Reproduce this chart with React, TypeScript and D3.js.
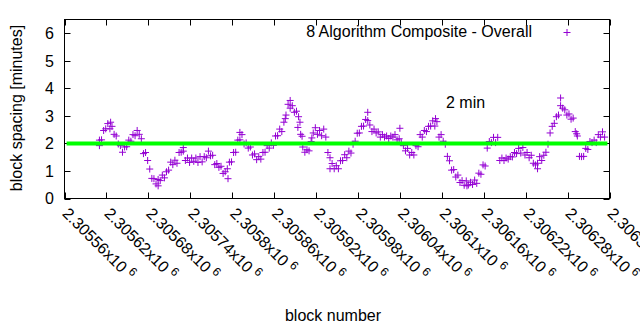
import React from "react";
import * as d3 from "d3";

// ---- data ----
const blockStart = 2305610;
const blockStep = 3;
const spacingValues = [
  2.12, 2.13, 2.47, 2.53, 2.72, 2.53, 2.62, 2.33, 2.27, 1.98, 1.92, 1.68, 1.87, 1.88, 2.12, 2.08, 2.32, 2.28, 2.47,
  2.33, 2.17, 1.63, 1.67, 1.38, 1.07, 0.73, 0.72, 0.53, 0.69, 0.65, 0.85, 0.75, 0.97, 1.03, 1.32, 1.23, 1.39,
  1.28, 1.67, 1.68, 1.72, 1.38, 1.47, 1.31, 1.47, 1.35, 1.47, 1.31, 1.52, 1.33, 1.52, 1.48, 1.72, 1.55, 1.57, 1.23, 1.27,
  1.13, 1.17, 0.91, 0.97, 1.08, 1.32, 1.33, 1.67, 1.68, 2.12, 2.13, 2.32, 1.98, 2.02, 1.83, 1.87, 1.58, 1.62,
  1.41, 1.52, 1.43, 1.67, 1.68, 1.92, 1.83, 2.02, 1.93, 2.27, 2.28, 2.52, 2.43, 2.77, 3.03, 3.42, 3.28, 3.37, 3.13, 3.17,
  2.97, 2.33, 1.87, 1.68, 1.77, 1.73, 2.07, 2.38, 2.57, 2.33, 2.47, 2.28, 2.52, 2.23, 1.67, 1.48, 1.27, 1.08, 1.19, 1.08,
  1.37, 1.38, 1.59, 1.48, 1.72, 1.65, 1.97, 2.08, 2.37, 2.38, 2.62, 2.63, 2.87, 2.83, 2.67, 2.43, 2.52,
  2.38, 2.42, 2.23, 2.32, 2.23, 2.27, 2.18, 2.27, 2.23, 2.32, 2.13, 2.17, 2.03, 1.92, 1.73, 1.82, 1.58, 1.67, 1.58,
  1.92, 1.88, 2.32, 2.23, 2.47, 2.43, 2.62, 2.63, 2.82, 2.63, 2.79, 2.23, 2.32, 2.08, 1.97, 1.53, 1.37, 1.03, 1.05,
  0.78, 0.85, 0.58, 0.65, 0.48, 0.64, 0.49, 0.59, 0.51, 0.67, 0.55, 0.92, 0.88, 1.22, 1.18, 1.83, 2.07, 2.03, 2.22,
  2.03, 2.22, 1.38, 1.47, 1.38, 1.47, 1.43, 1.52, 1.51, 1.67, 1.63, 1.82, 1.65, 1.85, 1.58, 1.67, 1.48, 1.57,
  1.28, 1.22, 1.28, 1.52, 1.38, 1.57, 1.68, 1.97, 2.38, 2.62, 2.73, 2.97, 3.03, 3.37, 3.28, 3.22, 3.03, 3.07, 2.88, 2.92, 2.43, 2.27,
  1.53, 1.52, 1.53, 1.82, 1.78, 2.07, 2.03, 2.12, 2.03, 2.32, 2.23, 2.42, 2.23,
];
const extraBlocks = [
  2305610, 2305626, 2305694, 2305730, 2305794, 2305811, 2305876, 2305883, 2305894, 2305897,
  2305900, 2305914, 2305940, 2305994, 2306040, 2306091, 2306136, 2306237, 2306270, 2306293,
];
const extraValues = [
  1.92, 2.77, 0.46, 1.85, 0.72, 2.4, 2.9, 3.56, 2.58, 2.77,
  2.26, 2.2, 1.08, 3.13, 2.55, 2.9, 0.46, 1.08, 3.65, 2.35,
];
const xTicks = [
  2305560, 2305620, 2305680, 2305740, 2305800, 2305860, 2305920, 2305980,
  2306040, 2306100, 2306160, 2306220, 2306280, 2306340,
];
const xTickLabels = [
  "2.30556", "2.30562", "2.30568", "2.30574", "2.3058", "2.30586", "2.30592", "2.30598",
  "2.30604", "2.3061", "2.30616", "2.30622", "2.30628", "2.30634",
];
const yTicks = [0, 1, 2, 3, 4, 5, 6];
const targetMinutes = 2;
const seriesName = "8 Algorithm Composite - Overall";
const targetLabel = "2 min";

const W = 640, H = 330;
const L = 64.5, R = 609.5, T = 19.5, B = 198.5;
const FONT = "'Liberation Sans', Arial, sans-serif";
const PURPLE = "#9400d3";

export default function App() {
  const x = d3.scaleLinear().domain([2305560, 2306340]).range([L, R]);
  const y = d3.scaleLinear().domain([0, 6.5]).range([B, T]);
  const pts: [number, number][] = spacingValues.map((v, i) => [blockStart + i * blockStep, v]);
  extraBlocks.forEach((b, i) => pts.push([b, extraValues[i]]));
  const plus = (cx: number, cy: number, k: string) => (
    <path key={k} d={`M${cx - 3.5},${cy}H${cx + 3.5}M${cx},${cy - 3.5}V${cy + 3.5}`} stroke={PURPLE} strokeWidth={1} fill="none" />
  );
  return (
    <svg width={W} height={H} style={{ position: "absolute", left: 0, top: 0, background: "#fff" }} fontFamily={FONT}>
      <rect x={0} y={0} width={W} height={H} fill="#fff" />
      {yTicks.map((t) => (
        <g key={"y" + t}>
          <line x1={L} x2={L + 6} y1={Math.round(y(t)) + 0.5} y2={Math.round(y(t)) + 0.5} stroke="#000" />
          <line x1={R} x2={R - 6} y1={Math.round(y(t)) + 0.5} y2={Math.round(y(t)) + 0.5} stroke="#000" />
          <text x={54} y={y(t)} dy="0.36em" textAnchor="end" fontSize={16} fill="#000">{t}</text>
        </g>
      ))}
      {xTicks.map((t, i) => {
        const px = Math.round(x(t)) + 0.5;
        return (
          <g key={"x" + t}>
            <line x1={px} x2={px} y1={B} y2={B - 6} stroke="#000" />
            <line x1={px} x2={px} y1={T} y2={T + 6} stroke="#000" />
            <text transform={`translate(${x(t) - 3},${B + 16}) rotate(45)`} fontSize={16} fill="#000">
              {xTickLabels[i]}x10<tspan fontSize={12} dx={4} dy={-6}>6</tspan>
            </text>
          </g>
        );
      })}
      {pts.map(([b, v], i) => plus(x(b), y(v), "p" + i))}
      <line x1={x(2305563)} x2={x(2306337)} y1={y(targetMinutes)} y2={y(targetMinutes)} stroke="#00ff00" strokeWidth={4} />
      <rect x={L} y={T} width={R - L} height={B - T} fill="none" stroke="#000" strokeWidth={1} />
      <text x={532} y={37} textAnchor="end" fontSize={16} fill="#000">{seriesName}</text>
      {plus(567, 32.5, "leg")}
      <text x={446} y={107.5} fontSize={16} fill="#000">{targetLabel}</text>
      <text transform={`translate(22,108) rotate(-90)`} textAnchor="middle" fontSize={16} fill="#000">block spacing [minutes]</text>
      <text x={333} y={321} textAnchor="middle" fontSize={16} fill="#000">block number</text>
    </svg>
  );
}
